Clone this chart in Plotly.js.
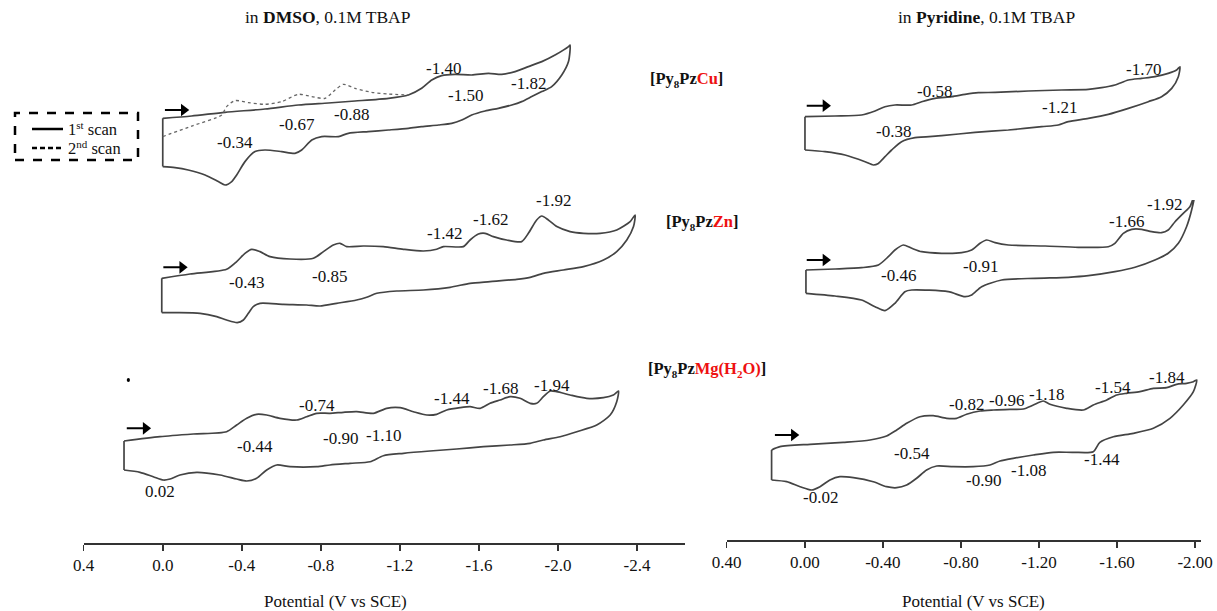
<!DOCTYPE html>
<html><head><meta charset="utf-8">
<script src="https://cdn.plot.ly/plotly-3.0.1.min.js"></script>
<style>html,body{margin:0;padding:0;background:#fff}#chart{width:1217px;height:611px}</style>
</head><body><div id="chart"></div>
<script>
// ---------- DATA (potential in V vs SCE, current in arbitrary units, cathodic up) ----------
// DMSO, Cu
const dmsoCuFwdE = [0.00,-0.146,-0.315,-0.517,-0.686,-0.838,-0.973,-1.142,-1.243,-1.310,-1.361,-1.411,-1.479,-1.563,-1.648,-1.715,-1.783,-1.850,-1.918,-1.985,-2.053,-2.061];
const dmsoCuFwdI = [0,2.3,6,9.3,13.3,15.3,17.3,20,23.3,30,38.3,42.7,44,43.3,45,44,46.7,51.7,56.7,63.3,71.7,73.3];
const dmsoCuRevE = [-2.053,-2.019,-1.968,-1.918,-1.867,-1.816,-1.766,-1.698,-1.631,-1.563,-1.513,-1.462,-1.395,-1.310,-1.243,-1.142,-1.040,-0.939,-0.889,-0.804,-0.754,-0.703,-0.669,-0.602,-0.517,-0.467,-0.416,-0.374,-0.349,-0.315,-0.281,-0.214,-0.129,-0.062,0.00];
const dmsoCuRevI = [56.7,43.3,31.7,26.7,21.7,16.7,13.3,10,7.3,3.3,-1.7,-5,-6.7,-8.3,-10,-11.7,-13.3,-15,-18.3,-18.3,-21.7,-31.7,-35,-33.3,-31.7,-33.3,-43.3,-56.7,-63.3,-66.7,-63.3,-56.7,-51.7,-49.3,-48.3];
const dmsoCu2ndE = [0.00,-0.146,-0.298,-0.323,-0.366,-0.433,-0.517,-0.602,-0.686,-0.754,-0.821,-0.872,-0.914,-0.973,-1.057,-1.142,-1.243];
const dmsoCu2ndI = [-18.3,-7.8,3.3,11.7,17.7,15.7,14,16.7,24,21.7,20,28.3,34,30,26,24.3,23.3];
const dmsoCuPeaks = ['-1.40','-1.82','-1.50','-0.88','-0.67','-0.34'];

// DMSO, Zn
const dmsoZnFwdE = [0.005,-0.138,-0.323,-0.374,-0.416,-0.450,-0.492,-0.543,-0.644,-0.762,-0.813,-0.863,-0.897,-0.931,-1.015,-1.116,-1.218,-1.319,-1.386,-1.420,-1.521,-1.555,-1.597,-1.631,-1.673,-1.740,-1.816,-1.850,-1.892,-1.918,-1.951,-1.994,-2.061,-2.129,-2.213,-2.297,-2.365,-2.390];
const dmsoZnFwdI = [0,4.3,9,16.7,25,29,26.7,21.7,19.3,20,26.7,33.3,35,31.7,32.3,31.7,29,27.3,29,31.7,31.7,38.3,44.3,45,41.7,38.3,36.7,45,58.3,62.3,58.3,51.7,46.7,45,45,48.3,56.7,63.3];
const dmsoZnRevE = [-2.382,-2.348,-2.297,-2.230,-2.129,-2.027,-1.926,-1.859,-1.791,-1.656,-1.555,-1.454,-1.319,-1.184,-1.083,-1.032,-0.981,-0.880,-0.796,-0.728,-0.610,-0.492,-0.458,-0.433,-0.408,-0.377,-0.323,-0.273,-0.189,-0.070,0.005];
const dmsoZnRevI = [51.7,38.3,26.7,18.3,11.7,8.3,5,1,-1,-3.3,-5,-9,-11.7,-12.7,-15,-19,-21.7,-25,-27.7,-26.7,-26,-25,-28.3,-35,-41.7,-44.3,-41.7,-38.3,-35,-34.3,-34.3];
const dmsoZnPeaks = ['-1.92','-1.62','-1.42','-0.43','-0.85'];

// DMSO, Mg(H2O)
const dmsoMgFwdE = [0.196,0.014,-0.155,-0.323,-0.374,-0.425,-0.475,-0.526,-0.593,-0.678,-0.728,-0.779,-0.846,-0.914,-0.981,-1.066,-1.133,-1.201,-1.268,-1.336,-1.386,-1.437,-1.504,-1.555,-1.606,-1.656,-1.707,-1.757,-1.808,-1.859,-1.892,-1.926,-1.960,-1.994,-2.061,-2.145,-2.230,-2.280,-2.306];
const dmsoMgFwdI = [0,4.3,7,9.3,16,22.7,26.7,26,22.7,21,24.3,27.7,27.7,28.7,29.3,27.7,32.7,33.3,29.3,26,26.7,31,33.3,34.3,32.7,37.7,41,44.3,42.7,37.7,37.7,44.3,50,49.3,46,42.7,43.3,46,50];
const dmsoMgRevE = [-2.297,-2.264,-2.196,-2.095,-2.011,-1.926,-1.859,-1.757,-1.623,-1.487,-1.352,-1.218,-1.116,-1.049,-0.948,-0.846,-0.779,-0.644,-0.577,-0.526,-0.475,-0.425,-0.374,-0.290,-0.172,-0.087,-0.037,-0.003,0.048,0.115,0.196];
const dmsoMgRevI = [39.3,26,16,9.3,4.3,1,-2.3,-4,-5.7,-8,-10,-12.3,-14.7,-20.7,-22.3,-24,-25.7,-25.7,-24,-29,-37.3,-40,-38,-34,-31.3,-34,-38,-39,-35.7,-31.3,-29];
const dmsoMgPeaks = ['-0.74','-1.44','-1.68','-1.94','-0.90','-1.10','-0.44','0.02'];

// Pyridine, Cu
const pyCuFwdE = [-0.001,-0.155,-0.291,-0.360,-0.411,-0.462,-0.548,-0.599,-0.667,-0.753,-0.821,-0.889,-0.975,-1.145,-1.316,-1.453,-1.521,-1.589,-1.658,-1.726,-1.794,-1.862,-1.905,-1.922];
const pyCuFwdI = [0,0.7,1.7,5.7,10,11.7,11.7,15,18.3,20,22.3,24,24.3,25.7,26.7,27.3,29,31.7,36.7,38.3,40,43.3,46.7,50];
const pyCuRevE = [-1.914,-1.880,-1.828,-1.760,-1.658,-1.555,-1.453,-1.350,-1.299,-1.214,-1.043,-0.872,-0.701,-0.565,-0.496,-0.445,-0.411,-0.377,-0.351,-0.309,-0.206,-0.104,-0.001];
const pyCuRevI = [40,28.3,20,15,8.3,2.3,-1.7,-5,-8.3,-10,-13.3,-15.7,-19,-21,-25,-33.3,-40,-46.7,-48.3,-45,-38.3,-35,-33.3];
const pyCuPeaks = ['-1.70','-0.58','-1.21','-0.38'];

// Pyridine, Zn
const pyZnFwdE = [-0.006,-0.155,-0.291,-0.377,-0.428,-0.462,-0.505,-0.548,-0.599,-0.701,-0.804,-0.855,-0.898,-0.932,-0.975,-1.043,-1.231,-1.401,-1.555,-1.589,-1.632,-1.675,-1.726,-1.777,-1.828,-1.862,-1.897,-1.939,-1.973,-1.990,-1.999];
const pyZnFwdI = [0,1,2.3,5,13.3,20,25,21.7,18.3,16.7,17.3,20,26.7,30,27.3,25,24,22.7,23.3,26.7,36.7,40.7,40.7,38.3,37.3,40,48.3,56.7,63.3,71.7,76.7];
const pyZnRevE = [-1.982,-1.956,-1.914,-1.862,-1.794,-1.692,-1.589,-1.453,-1.350,-1.179,-1.009,-0.906,-0.855,-0.821,-0.735,-0.548,-0.513,-0.462,-0.411,-0.360,-0.291,-0.155,-0.006];
const pyZnRevI = [60,43.3,26.7,16.7,10,2.7,-1.7,-5.7,-7.3,-8.3,-10,-16.7,-25,-26.7,-21.7,-20,-21.7,-33.3,-40.7,-36.7,-30,-26,-23.3];
const pyZnPeaks = ['-1.92','-1.66','-0.46','-0.91'];

// Pyridine, Mg(H2O)
const pyMgFwdE = [0.170,0.127,-0.027,-0.197,-0.334,-0.419,-0.471,-0.522,-0.590,-0.658,-0.727,-0.778,-0.829,-0.898,-0.966,-1.051,-1.120,-1.171,-1.222,-1.256,-1.342,-1.427,-1.478,-1.547,-1.598,-1.649,-1.717,-1.786,-1.854,-1.905,-1.956,-1.991,-2.008];
const pyMgFwdI = [0,3.3,5.7,7.7,10,14,20,26.7,33.3,34.3,31.7,31.7,35.7,39,40,40.7,41,45,49,45.7,41.7,40,45,50,55,56.7,58.3,61.7,62.3,65.7,66.7,68.3,70];
const pyMgRevE = [-1.991,-1.939,-1.871,-1.786,-1.683,-1.581,-1.512,-1.478,-1.376,-1.273,-1.171,-1.068,-1.000,-0.949,-0.863,-0.761,-0.676,-0.624,-0.573,-0.522,-0.471,-0.419,-0.351,-0.249,-0.180,-0.129,-0.078,-0.035,0.024,0.093,0.170];
const pyMgRevI = [58.3,45,31.7,21.7,16.7,13.3,7.7,-1.7,-2.3,-2.3,-5,-8.3,-11,-15,-16.7,-16.7,-16,-20,-28.3,-35,-37.7,-36.7,-31.7,-27.7,-26.7,-30,-36.7,-40,-36.7,-31.7,-30];
const pyMgPeaks = ['-1.84','-1.54','-1.18','-0.96','-0.82','-0.54','-1.44','-1.08','-0.90','-0.02'];

// tick labels
const dmsoTickVals = [0.4,0.0,-0.4,-0.8,-1.2,-1.6,-2.0,-2.4];
const dmsoTickText = ['0.4','0.0','-0.4','-0.8','-1.2','-1.6','-2.0','-2.4'];
const pyTickVals = [0.4,0.0,-0.4,-0.8,-1.2,-1.6,-2.0];
const pyTickText = ['0.40','0.00','-0.40','-0.80','-1.20','-1.60','-2.00'];

// ---------- LAYOUT / STYLE ----------
const FONT = 'Liberation Serif, Times New Roman, serif';
const W = 1217, H = 611;
const px = v => v / W, py = v => 1 - v / H;
const LINE = '#444';
const RED = '#ee1111';
const SUB = t => '<span style="font-size:11px;baseline-shift:-4px">' + t + '</span>';
const SUP = t => '<span style="font-size:11px;baseline-shift:6px">' + t + '</span>';
const RD = t => '<span style="color:' + RED + '">' + t + '</span>';

// label positions [E, I] and scan-direction arrow [tailE, tipE, I] per panel (layout only)
const panels = [
  {fe:dmsoCuFwdE, fi:dmsoCuFwdI, re:dmsoCuRevE, ri:dmsoCuRevI, xa:'x', ya:'y',
   peaks:dmsoCuPeaks, pos:[[-1.420,50],[-1.850,35],[-1.530,22.6],[-0.956,4.3],[-0.678,-6],[-0.366,-24]],
   arrow:[-0.011,-0.129,8.3]},
  {fe:dmsoZnFwdE, fi:dmsoZnFwdI, re:dmsoZnRevE, ri:dmsoZnRevI, xa:'x', ya:'y2',
   peaks:dmsoZnPeaks, pos:[[-1.977,77.6],[-1.656,59],[-1.428,45],[-0.425,-4.4],[-0.846,2.3]],
   arrow:[-0.003,-0.121,11]},
  {fe:dmsoMgFwdE, fi:dmsoMgFwdI, re:dmsoMgRevE, ri:dmsoMgRevI, xa:'x', ya:'y3',
   peaks:dmsoMgPeaks, pos:[[-0.779,35.3],[-1.462,42.7],[-1.707,52.7],[-1.968,56],[-0.897,2.7],[-1.116,6],[-0.467,-5.7],[0.014,-50.7]],
   arrow:[0.182,0.064,12.7]},
  {fe:pyCuFwdE, fi:pyCuFwdI, re:pyCuRevE, ri:pyCuRevI, xa:'x2', ya:'y4',
   peaks:pyCuPeaks, pos:[[-1.734,47.7],[-0.667,25.7],[-1.307,9],[-0.453,-14.3]],
   arrow:[-0.010,-0.129,11]},
  {fe:pyZnFwdE, fi:pyZnFwdI, re:pyZnRevE, ri:pyZnRevI, xa:'x2', ya:'y5',
   peaks:pyZnPeaks, pos:[[-1.845,66],[-1.649,48.3],[-0.479,-5],[-0.898,4]],
   arrow:[-0.010,-0.129,10]},
  {fe:pyMgFwdE, fi:pyMgFwdI, re:pyMgRevE, ri:pyMgRevI, xa:'x2', ya:'y6',
   peaks:pyMgPeaks, pos:[[-1.854,72.3],[-1.581,62.3],[-1.239,55.7],[-1.034,50],[-0.830,45.7],[-0.548,-3.3],[-1.521,-9],[-1.145,-20],[-0.915,-30],[-0.078,-47.7]],
   arrow:[0.153,0.033,15]}
];

const traces = [];
const annotations = [];
panels.forEach(p => {
  traces.push({x: p.fe.concat(p.re), y: p.fi.concat(p.ri), xaxis:p.xa, yaxis:p.ya,
    mode:'lines', line:{color:LINE, width:1.7, shape:'spline', smoothing:0.7}, hoverinfo:'skip'});
  traces.push({x: [p.re[p.re.length-1], p.fe[0]], y: [p.ri[p.ri.length-1], p.fi[0]], xaxis:p.xa, yaxis:p.ya,
    mode:'lines', line:{color:LINE, width:1.7}, hoverinfo:'skip'});
  p.peaks.forEach((t, k) => {
    annotations.push({x:p.pos[k][0], y:p.pos[k][1], xref:p.xa, yref:p.ya, text:t, showarrow:false,
      font:{family:FONT, size:17, color:'#111'}});
  });
  // scan direction arrow: shaft + triangular head
  const scale = p.xa === 'x' ? 197.6 : 195.2;
  const headC = p.arrow[1] + 4.5 / scale;
  traces.push({x:[p.arrow[0], headC], y:[p.arrow[2], p.arrow[2]], xaxis:p.xa, yaxis:p.ya,
    mode:'lines', line:{color:'#000', width:2}, hoverinfo:'skip'});
  traces.push({x:[headC], y:[p.arrow[2]], xaxis:p.xa, yaxis:p.ya, mode:'markers',
    marker:{symbol:'triangle-right', size:11, color:'#000', line:{width:0}}, hoverinfo:'skip'});
});
// 2nd scan (dashed)
traces.push({x:dmsoCu2ndE, y:dmsoCu2ndI, xaxis:'x', yaxis:'y', mode:'lines',
  line:{color:'#666', width:1.3, dash:'3px,3px', shape:'spline', smoothing:0.7}, hoverinfo:'skip'});

// headers, compound names, axis titles, legend texts
const txt = (x, y, t, size, anchor) => ({x:px(x), y:py(y), xref:'paper', yref:'paper', text:t, showarrow:false,
  xanchor:anchor||'center', yanchor:'middle', font:{family:FONT, size:size, color:'#111'}});
annotations.push(txt(328, 17, 'in <b>DMSO</b>, 0.1M TBAP', 17.5));
annotations.push(txt(986, 17, 'in <b>Pyridine</b>, 0.1M TBAP', 17.5));
annotations.push(txt(686, 79, '<b>[Py' + SUB('8') + 'Pz' + RD('Cu') + ']</b>', 16.5));
annotations.push(txt(702, 222, '<b>[Py' + SUB('8') + 'Pz' + RD('Zn') + ']</b>', 16.5));
annotations.push(txt(707, 369, '<b>[Py' + SUB('8') + 'Pz' + RD('Mg(H') + '<span style="color:' + RED + ';font-size:11px;baseline-shift:-4px">2</span>' + RD('O)') + ']</b>', 16.5));
annotations.push(txt(335, 601, 'Potential (V vs SCE)', 17));
annotations.push(txt(973, 601, 'Potential (V vs SCE)', 17));
annotations.push(txt(66, 129, '1' + SUP('st') + ' scan', 16.5, 'left'));
annotations.push(txt(66, 148, '2' + SUP('nd') + ' scan', 16.5, 'left'));

const shapes = [
  {type:'rect', xref:'paper', yref:'paper', x0:px(15), x1:px(138), y0:py(160), y1:py(113),
   line:{color:'#000', width:2.5, dash:'dash'}},
  {type:'line', xref:'paper', yref:'paper', x0:px(32), x1:px(63), y0:py(129), y1:py(129), line:{color:'#000', width:2.5}},
  {type:'line', xref:'paper', yref:'paper', x0:px(32), x1:px(63), y0:py(148), y1:py(148), line:{color:'#000', width:2.5, dash:'5px,3px'}},
  {type:'circle', xref:'x', yref:'y3', x0:0.182, x1:0.166, y0:63, y1:59, fillcolor:'#000', line:{width:0}}
];

const yax = (dom, rng, anchor) => ({domain:dom, range:rng, anchor:anchor, visible:false, fixedrange:true});
const row1 = [py(200), py(30)], row2 = [py(340), py(200)], row3 = [py(520), py(340)];
const xax = (dom, rng, pos, vals, text) => ({domain:dom, range:rng, anchor:'free', position:pos,
  showline:true, linecolor:'#333', linewidth:2, ticks:'outside', ticklen:6, tickwidth:1.5, tickcolor:'#333',
  tickvals:vals, ticktext:text, tickfont:{family:FONT, size:17, color:'#111'}, showgrid:false, zeroline:false, fixedrange:true});

const layout = {
  width:W, height:H, margin:{l:0, r:0, t:0, b:0}, paper_bgcolor:'#fff', plot_bgcolor:'#fff', showlegend:false,
  xaxis: xax([px(83.7), px(684.5)], [0.4, -2.64], py(544), dmsoTickVals, dmsoTickText),
  xaxis2: xax([px(726.7), px(1201)], [0.40, -2.03], py(541), pyTickVals, pyTickText),
  yaxis: yax(row1, [-81.7, 88.3], 'x'),
  yaxis2: yax(row2, [-61.7, 78.3], 'x'),
  yaxis3: yax(row3, [-79, 101], 'x'),
  yaxis4: yax(row1, [-83.3, 86.7], 'x2'),
  yaxis5: yax(row2, [-70, 70], 'x2'),
  yaxis6: yax(row3, [-70, 110], 'x2'),
  annotations: annotations, shapes: shapes
};
Plotly.newPlot('chart', traces, layout, {staticPlot:true, displayModeBar:false});
</script></body></html>
